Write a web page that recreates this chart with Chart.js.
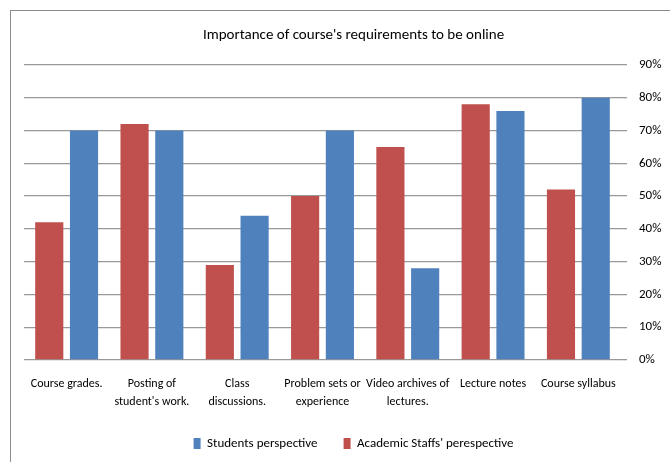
<!DOCTYPE html>
<html>
<head>
<meta charset="utf-8">
<script src="https://cdn.jsdelivr.net/npm/chart.js@4"></script>
<style>
    body { margin: 0; overflow: hidden; background: #fff; }
    #frame {
        position: absolute; left: 10px; top: 10px;
        width: 672px; height: 460px;
        border: 1px solid #8c8c8c;
        background: #fff;
    }
    #frame canvas { display: block; }
</style>
</head>
<body>
<div id="frame"><canvas id="myChart" width="672" height="460"></canvas></div>
<script>
// Importance of course's requirements to be online

const categories = [
    ['Course grades.'],
    ['Posting of', "student's work."],
    ['Class', 'discussions.'],
    ['Problem sets or', 'experience'],
    ['Video archives of', 'lectures.'],
    ['Lecture notes'],
    ['Course syllabus']
];
const staffValues = [42, 72, 29, 50, 65, 78, 52];        // Academic Staffs' perespective (red)
const studentValues = [70, 70, 44, 70, 28, 76, 80];      // Students perspective (blue)
const tickValues = [0, 10, 20, 30, 40, 50, 60, 70, 80, 90];

const fontFamily = "Carlito, 'Liberation Sans Narrow', Lato, 'Liberation Sans', sans-serif";

function createChart() {
    const ctx = document.getElementById('myChart');
    const myChart = new Chart(ctx, {
        type: 'bar',
        data: {
            labels: categories,
            datasets: [{
                label: "Academic Staffs' perespective",
                data: staffValues,
                backgroundColor: '#C0504D',
                categoryPercentage: 0.815,
                barPercentage: 0.81
            },
            {
                label: 'Students perspective',
                data: studentValues,
                backgroundColor: '#4F81BD',
                categoryPercentage: 0.815,
                barPercentage: 0.81
            }]
        },
        options: {
            responsive: false,
            animation: false,
            layout: {
                padding: { left: 13, right: 0, top: 0, bottom: 11 }
            },
            scales: {
                x: {
                    grid: { display: false, drawTicks: false },
                    border: { display: false },
                    ticks: {
                        color: '#000',
                        padding: 15,
                        maxRotation: 0,
                        autoSkip: false,
                        font: { family: fontFamily, size: 12, lineHeight: '18px' }
                    },
                    afterFit: scale => { scale.height = 51; }
                },
                y: {
                    position: 'right',
                    min: 0,
                    max: 90,
                    afterBuildTicks: scale => {
                        scale.ticks = tickValues.map(v => ({ value: v }));
                    },
                    grid: {
                        color: '#999999',
                        lineWidth: 1.3,
                        tickLength: 6
                    },
                    border: { display: false },
                    ticks: {
                        color: '#000',
                        padding: 12,
                        font: { family: fontFamily, size: 13 },
                        callback: value => value + '%'
                    },
                    afterFit: scale => { scale.width = 62; }
                }
            },
            plugins: {
                title: {
                    display: true,
                    text: "Importance of course's requirements to be online",
                    color: '#000',
                    font: { family: fontFamily, size: 15, weight: 'normal', lineHeight: 1.2 },
                    padding: { top: 15, bottom: 21 }
                },
                legend: {
                    position: 'bottom',
                    reverse: true,                   // Students first in the legend
                    labels: {
                        color: '#000',
                        boxWidth: 7,
                        boxHeight: 11,
                        padding: 26,
                        font: { family: fontFamily, size: 13 }
                    }
                },
                tooltip: { enabled: false }
            }
        }
    });
}
createChart();
</script>
</body>
</html>
